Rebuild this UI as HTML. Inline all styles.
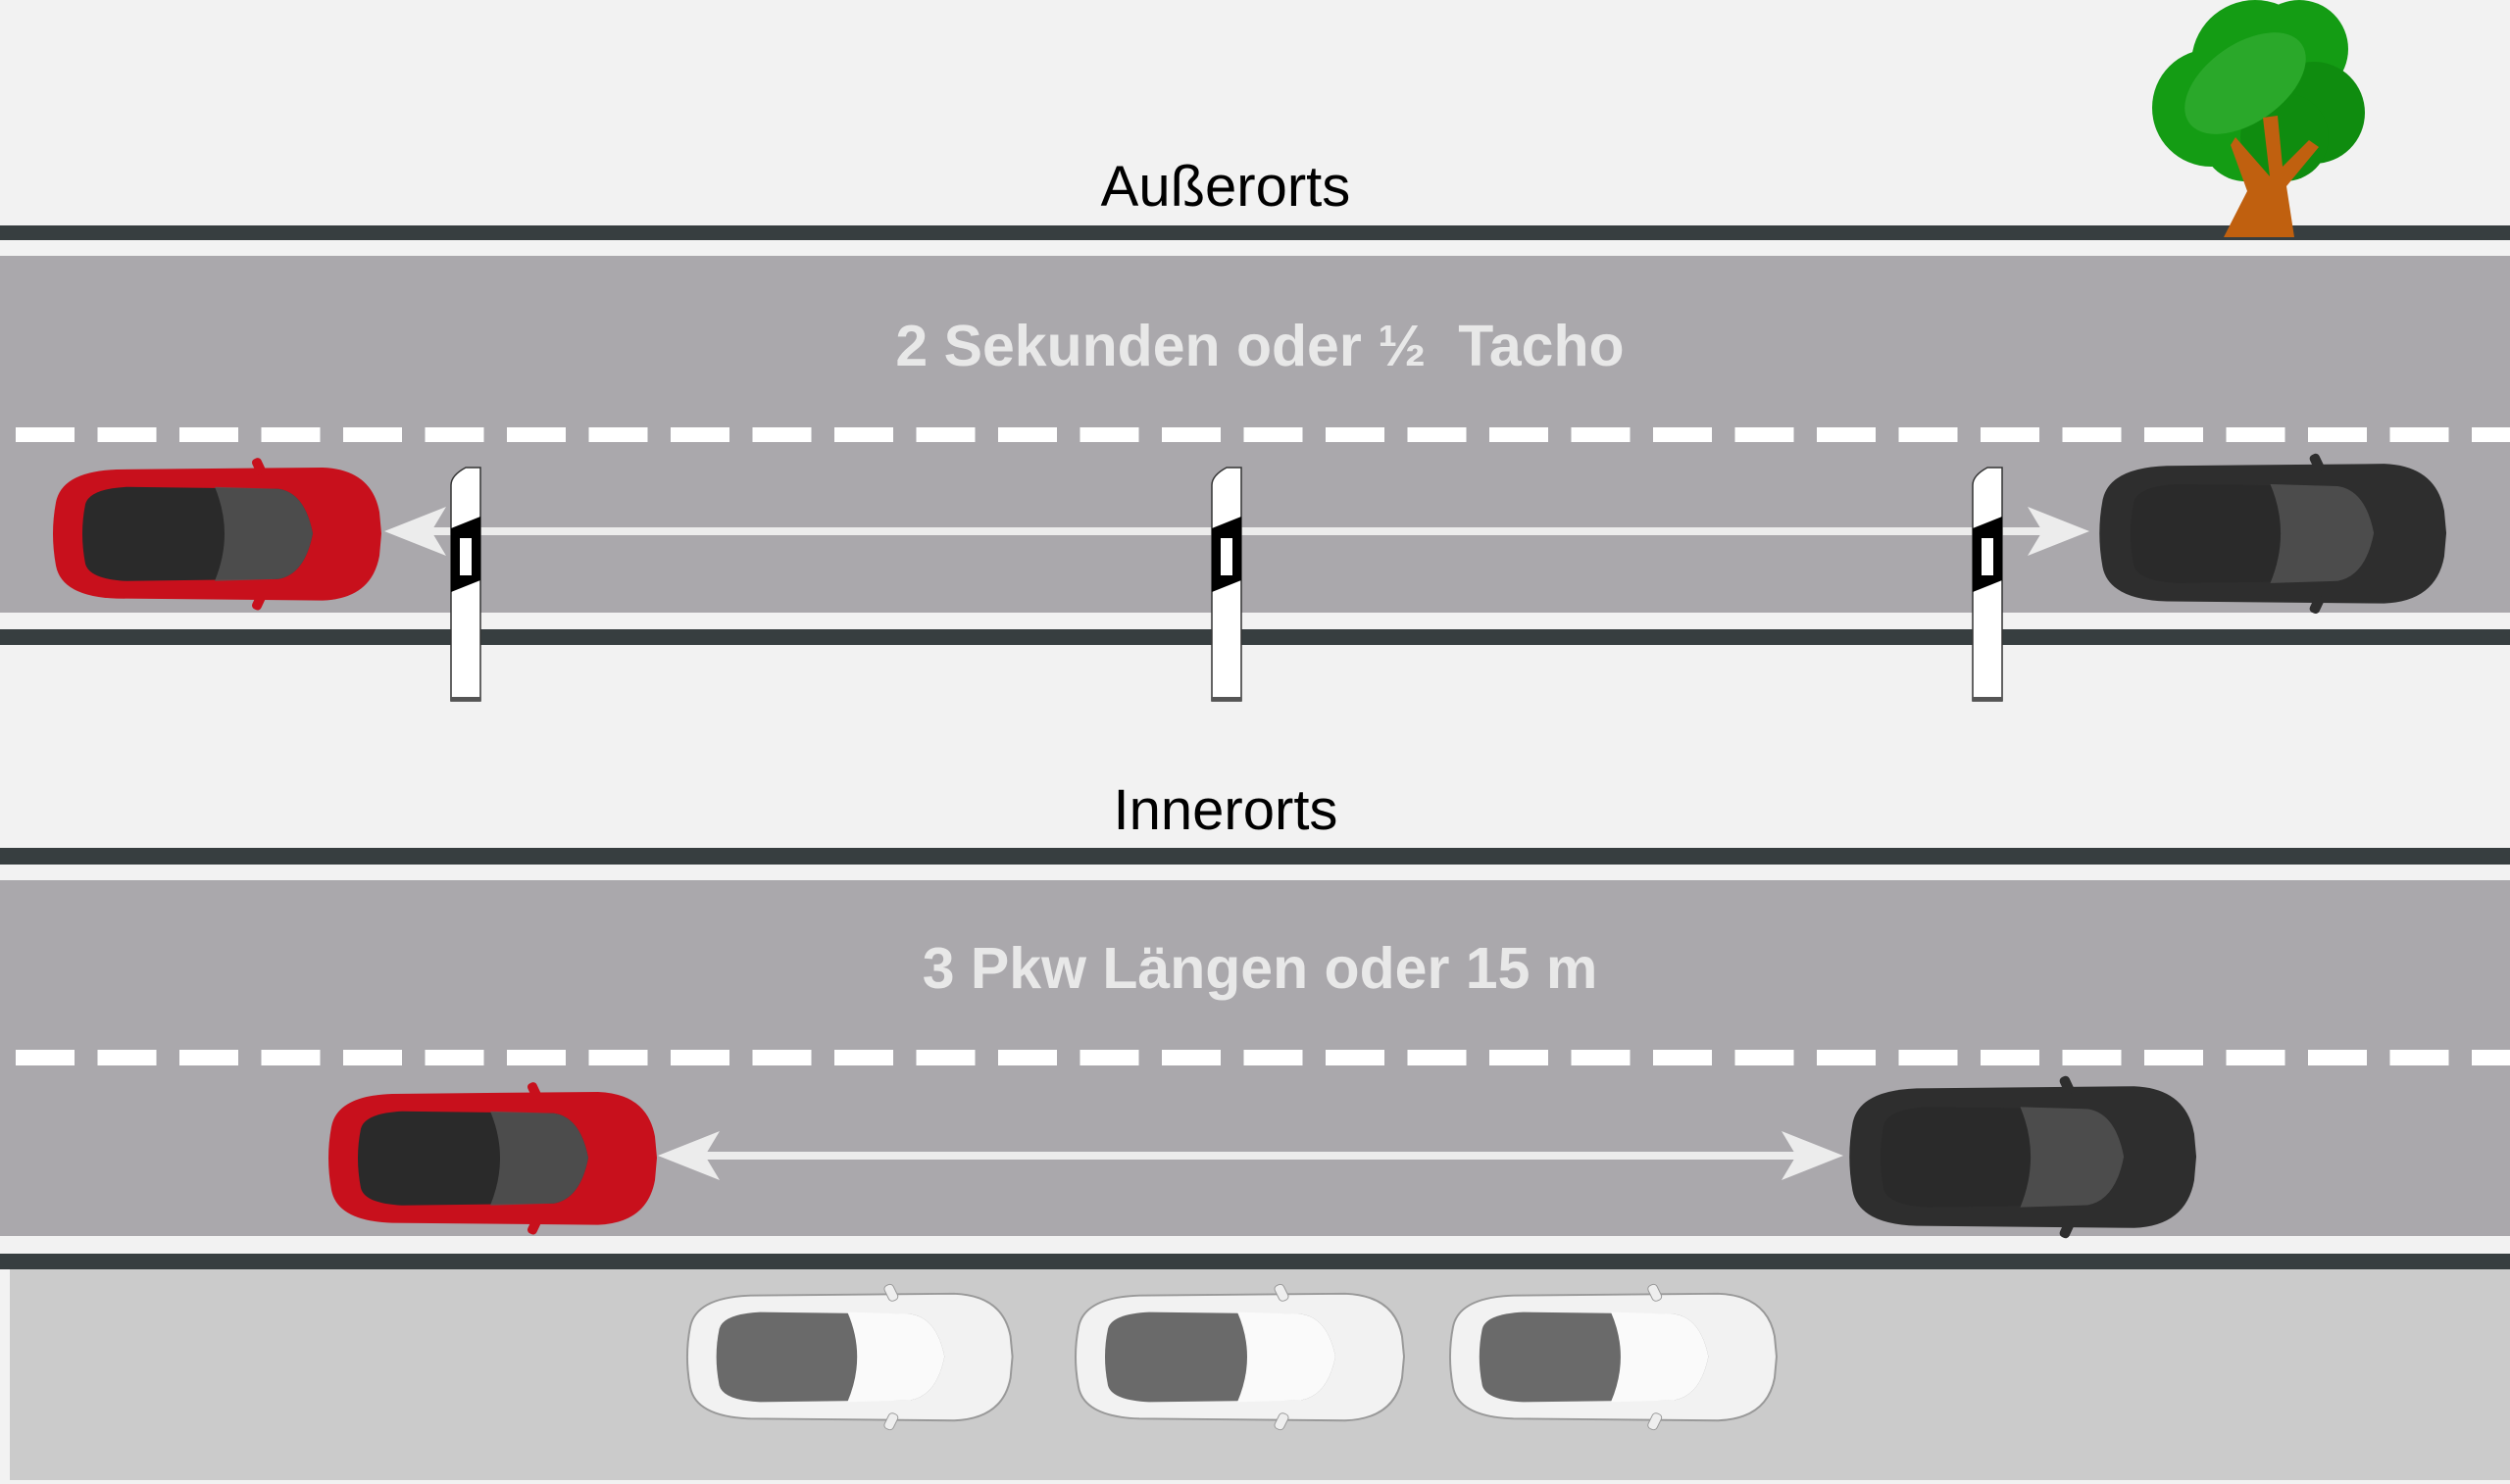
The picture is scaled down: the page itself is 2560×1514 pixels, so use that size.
<!DOCTYPE html>
<html><head><meta charset="utf-8"><style>
html,body{margin:0;padding:0;background:#f2f2f2;}
svg{display:block;}
</style></head><body>
<svg width="2560" height="1514" viewBox="0 0 2560 1514" xmlns="http://www.w3.org/2000/svg">
<defs>
  <pattern id="dash" x="16" y="0" width="83.5" height="20" patternUnits="userSpaceOnUse">
    <rect x="0" y="0" width="60" height="20" fill="#fff"/>
  </pattern>
  <g id="car">
    <path d="M8,40 Q14,8 70,6 L280,4 Q330,6 338,50 L340,72 L338,95 Q330,139 280,141 L70,139 Q14,137 8,105 Q2,72 8,40 Z"/>
    <path d="M38,42 Q42,26 80,24 L235,26 Q262,30 270,72 Q262,114 235,119 L80,121 Q42,119 38,103 Q32,72 38,42 Z" fill="#2a2a2a"/>
    <path d="M170,24 L235,26 Q262,30 270,72 Q262,114 235,119 L170,121 Q190,72 170,24 Z" fill="#555" opacity="0.8"/>
    <rect x="210" y="-6" width="10" height="18" rx="4" transform="rotate(-25 215 3)"/>
    <rect x="210" y="133" width="10" height="18" rx="4" transform="rotate(25 215 142)"/>
  </g>
  <g id="wcar">
    <path d="M8,40 Q14,8 70,6 L280,4 Q330,6 338,50 L340,72 L338,95 Q330,139 280,141 L70,139 Q14,137 8,105 Q2,72 8,40 Z" fill="#f2f2f2" stroke="#999" stroke-width="2"/>
    <path d="M38,42 Q42,26 80,24 L235,26 Q262,30 270,72 Q262,114 235,119 L80,121 Q42,119 38,103 Q32,72 38,42 Z" fill="#6a6a6a"/>
    <path d="M170,24 L235,26 Q262,30 270,72 Q262,114 235,119 L170,121 Q190,72 170,24 Z" fill="#fafafa"/>
    <rect x="210" y="-6" width="10" height="18" rx="4" fill="#eee" stroke="#999" transform="rotate(-25 215 3)"/>
    <rect x="210" y="133" width="10" height="18" rx="4" fill="#eee" stroke="#999" transform="rotate(25 215 142)"/>
  </g>
  <g id="post">
    <path d="M0,18 Q0,8 15,0 L30,0 L30,238 L0,238 Z" fill="#fff" stroke="#333" stroke-width="1.5"/>
    <path d="M0,62 L30,50 L30,115 L0,127 Z" fill="#000"/>
    <rect x="9" y="72" width="12" height="38" fill="#fff"/>
    <rect x="0" y="234" width="30" height="4" fill="#555"/>
  </g>
</defs>

<rect width="2560" height="1514" fill="#f2f2f2"/>

<rect x="0" y="230" width="2560" height="15" fill="#373e40"/>
<rect x="0" y="261" width="2560" height="364" fill="#aaa8ac"/>
<rect x="0" y="625" width="2560" height="17" fill="#f2f2f2"/>
<rect x="0" y="642" width="2560" height="16" fill="#373e40"/>
<rect x="0" y="436" width="2560" height="15" fill="url(#dash)"/>

<text x="1250" y="210" font-family="Liberation Sans, sans-serif" font-size="58" fill="#000" text-anchor="middle">Außerorts</text>
<text x="1285" y="373" font-family="Liberation Sans, sans-serif" font-size="59" font-weight="bold" fill="#e8e8e8" text-anchor="middle">2 Sekunden oder ½&#160; Tacho</text>

<!-- tree -->
<g>
  <circle cx="2255" cy="110" r="60" fill="#149c14"/>
  <circle cx="2300" cy="65" r="65" fill="#149c14"/>
  <circle cx="2345" cy="50" r="50" fill="#149c14"/>
  <circle cx="2360" cy="115" r="52" fill="#0f8c0f"/>
  <circle cx="2290" cy="140" r="45" fill="#149c14"/>
  <circle cx="2330" cy="140" r="45" fill="#0f8c0f"/>
  <ellipse cx="2290" cy="85" rx="70" ry="40" fill="#2aa82a" transform="rotate(-35 2290 85)"/>
  <path d="M2280,140 L2315,180 L2308,120 L2323,118 L2328,170 L2355,143 L2365,150 L2332,190 L2340,242 L2268,242 L2292,195 L2275,148 Z" fill="#c0600f"/>
</g>

<line x1="420" y1="542" x2="2100" y2="542" stroke="#ececec" stroke-width="8"/>
<polygon points="392,542 455,517 440,542 455,567" fill="#ececec"/>
<polygon points="2131,542 2068,517 2083,542 2068,567" fill="#ececec"/>

<use href="#car" fill="#c8101c" transform="translate(49,473) scale(1.0,0.99)"/>
<use href="#car" fill="#2e2e2e" transform="translate(2136,469) scale(1.056,1.04)"/>

<use href="#post" transform="translate(460,477)"/>
<use href="#post" transform="translate(1236,477)"/>
<use href="#post" transform="translate(2012,477)"/>

<text x="1250" y="846" font-family="Liberation Sans, sans-serif" font-size="58" fill="#000" text-anchor="middle">Innerorts</text>
<rect x="0" y="865" width="2560" height="17" fill="#373e40"/>
<rect x="0" y="898" width="2560" height="363" fill="#aaa8ac"/>
<rect x="0" y="1261" width="2560" height="18" fill="#f2f2f2"/>
<rect x="0" y="1279" width="2560" height="16" fill="#373e40"/>
<rect x="0" y="1071" width="2560" height="16" fill="url(#dash)"/>
<rect x="10" y="1295" width="2550" height="215" fill="#cbcbcb"/>

<text x="1285" y="1008" font-family="Liberation Sans, sans-serif" font-size="59" font-weight="bold" fill="#e8e8e8" text-anchor="middle">3 Pkw Längen oder 15 m</text>

<line x1="700" y1="1179" x2="1850" y2="1179" stroke="#ececec" stroke-width="8"/>
<polygon points="671,1179 734,1154 719,1179 734,1204" fill="#ececec"/>
<polygon points="1880,1179 1817,1154 1832,1179 1817,1204" fill="#ececec"/>

<use href="#car" fill="#c8101c" transform="translate(330,1110) scale(1.0,0.99)"/>
<use href="#car" fill="#2e2e2e" transform="translate(1881,1104) scale(1.056,1.055)"/>

<use href="#wcar" transform="translate(696,1316) scale(0.99,0.945)"/>
<use href="#wcar" transform="translate(1092,1316) scale(1.0,0.945)"/>
<use href="#wcar" transform="translate(1474,1316) scale(0.994,0.945)"/>
</svg>
</body></html>
